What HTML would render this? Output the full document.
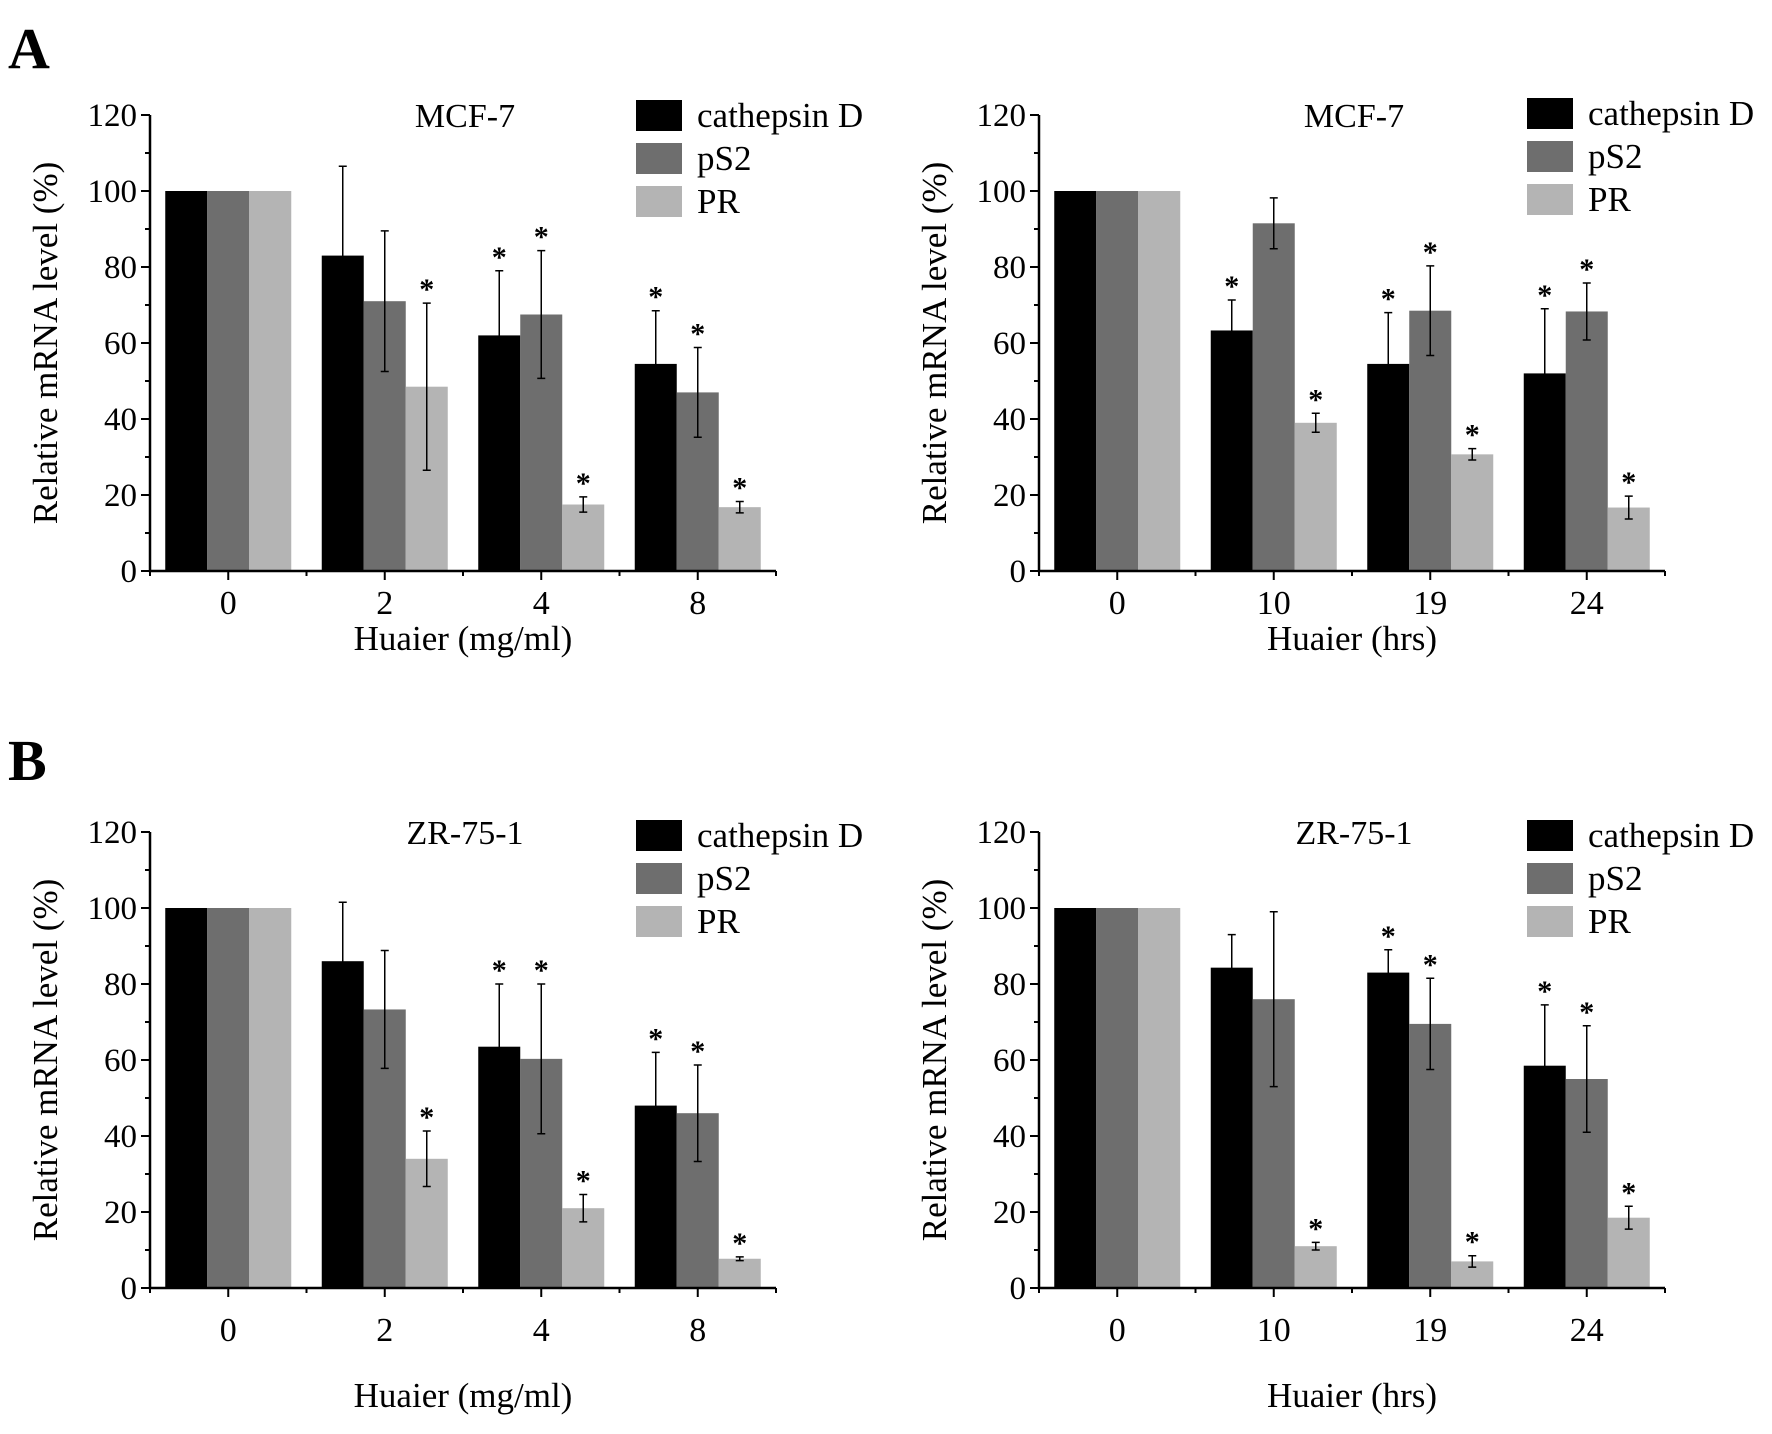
<!DOCTYPE html>
<html><head><meta charset="utf-8"><style>
html,body{margin:0;padding:0;background:#fff}
svg{display:block}
text{font-family:"Liberation Serif",serif;fill:#000}
</style></head><body>
<svg id="fig" width="1772" height="1434" viewBox="0 0 1772 1434" xmlns="http://www.w3.org/2000/svg">
<text x="8" y="68" font-size="58" font-weight="bold">A</text>
<text x="8" y="780" font-size="58" font-weight="bold">B</text>
</svg>
<script>
const seriesNames = ["cathepsin D","pS2","PR"];
const colors = ["#000000","#6e6e6e","#b4b4b4"];
const yTicks = [0,20,40,60,80,100,120];

const aLeftCats = ["0","2","4","8"];
const aLeftCath = [100,83,62,54.5];
const aLeftPS2 = [100,71,67.5,47];
const aLeftPR = [100,48.5,17.5,16.8];
const aLeftCathErr = [0,23.5,17,14];
const aLeftPS2Err = [0,18.5,16.8,11.8];
const aLeftPRErr = [0,22,2,1.5];
const aLeftCathStar = [0,0,1,1];
const aLeftPS2Star = [0,0,1,1];
const aLeftPRStar = [0,1,1,1];

const aRightCats = ["0","10","19","24"];
const aRightCath = [100,63.3,54.5,52];
const aRightPS2 = [100,91.5,68.5,68.3];
const aRightPR = [100,39,30.7,16.7];
const aRightCathErr = [0,8,13.5,17];
const aRightPS2Err = [0,6.7,11.8,7.5];
const aRightPRErr = [0,2.5,1.5,3];
const aRightCathStar = [0,1,1,1];
const aRightPS2Star = [0,0,1,1];
const aRightPRStar = [0,1,1,1];

const bLeftCats = ["0","2","4","8"];
const bLeftCath = [100,86,63.5,48];
const bLeftPS2 = [100,73.3,60.3,46];
const bLeftPR = [100,34,21,7.7];
const bLeftCathErr = [0,15.5,16.5,14];
const bLeftPS2Err = [0,15.5,19.7,12.7];
const bLeftPRErr = [0,7.3,3.6,0.5];
const bLeftCathStar = [0,0,1,1];
const bLeftPS2Star = [0,0,1,1];
const bLeftPRStar = [0,1,1,1];

const bRightCats = ["0","10","19","24"];
const bRightCath = [100,84.3,83,58.5];
const bRightPS2 = [100,76,69.5,55];
const bRightPR = [100,11,7,18.5];
const bRightCathErr = [0,8.7,6,16];
const bRightPS2Err = [0,23,12,14];
const bRightPRErr = [0,1,1.5,3];
const bRightCathStar = [0,0,1,1];
const bRightPS2Star = [0,0,1,1];
const bRightPRStar = [0,1,1,1];

const NS = "http://www.w3.org/2000/svg";
const svg = document.getElementById("fig");
function mk(tag, attrs, parent){
  const e = document.createElementNS(NS, tag);
  for (const k in attrs) e.setAttribute(k, attrs[k]);
  (parent||svg).appendChild(e);
  return e;
}

function panel(id, ax, y0, cats, vals, errs, stars, title, xTitle, legX, legY, tickLblY, xTitleY){
  const g = mk("g", {});
  
  
  const ppu = 456/120;
  const step = 156.5;
  const yS = v => y0 - v*ppu;
  const xS = i => ax + step/2 + i*step;
  const bw = 42;
  for (let s=0;s<3;s++){
    for (let i=0;i<cats.length;i++){
      const x = xS(i) - 1.5*bw + s*bw;
      const r = mk("rect", {x:x, y:yS(vals[s][i]), width:bw, height:vals[s][i]*ppu, fill:colors[s]}, g);
      
      
      const e = errs[s][i];
      if (e > 0){
        const cx = x + bw/2;
        const eb = mk("path", {d:`M${cx} ${yS(vals[s][i]-e)}V${yS(vals[s][i]+e)}M${cx-4} ${yS(vals[s][i]+e)}h8M${cx-4} ${yS(vals[s][i]-e)}h8`, stroke:"#000", "stroke-width":1.5, fill:"none"}, g);
        
        
      }
      if (stars[s][i]){
        const top = yS(vals[s][i] + e);
        const st = mk("text", {x:x+bw/2, y:top-4, "text-anchor":"middle", "font-size":30, "font-family":"Liberation Sans, sans-serif", "font-weight":"bold"}, g);
        st.textContent = "*";
        
        
      }
    }
  }
  const axLine = mk("path", {d:`M${ax} ${yS(120)}V${y0}H${ax+4*step}`, stroke:"#000", "stroke-width":2.5, fill:"none"}, g);
  
  
  for (let v=0; v<=120; v+=10){
    const major = v%20===0;
    mk("line", {x1:ax-(major?9:5), x2:ax, y1:yS(v), y2:yS(v), stroke:"#000", "stroke-width":2}, g);
  }
  yTicks.forEach(v=>{
    const t = mk("text", {x:ax-13, y:yS(v)+11, "text-anchor":"end", "font-size":33}, g);
    t.textContent = v;
    
    
  });
  for (let i=0;i<=4;i++){
    const x = ax + i*step;
    mk("line", {x1:x, x2:x, y1:y0, y2:y0+5, stroke:"#000", "stroke-width":2}, g);
  }
  cats.forEach((c,i)=>{
    mk("line", {x1:xS(i), x2:xS(i), y1:y0, y2:y0+9, stroke:"#000", "stroke-width":2}, g);
    const t = mk("text", {x:xS(i), y:tickLblY, "text-anchor":"middle", "font-size":34}, g);
    t.textContent = c;
    
    
  });
  const yt = mk("text", {transform:`translate(${ax-93},${yS(60)}) rotate(-90)`, "text-anchor":"middle", "font-size":35}, g);
  yt.textContent = "Relative mRNA level (%)";
  
  
  const xt = mk("text", {x:ax+2*step, y:xTitleY, "text-anchor":"middle", "font-size":35}, g);
  xt.textContent = xTitle;
  
  
  const tt = mk("text", {x:ax+315, y:yS(120)+12, "text-anchor":"middle", "font-size":34}, g);
  tt.textContent = title;
  
  
  for (let s=0;s<3;s++){
    const ly = legY + s*43;
    const lr = mk("rect", {x:legX, y:ly-15, width:46, height:31, fill:colors[s]}, g);
    
    
    const lt = mk("text", {x:legX+61, y:ly+12, "font-size":35}, g);
    lt.textContent = seriesNames[s];
    
    
  }
}

panel("a-left", 150, 571, aLeftCats, [aLeftCath,aLeftPS2,aLeftPR], [aLeftCathErr,aLeftPS2Err,aLeftPRErr], [aLeftCathStar,aLeftPS2Star,aLeftPRStar], "MCF-7", "Huaier (mg/ml)", 636, 115, 614, 650);
panel("a-right", 1039, 571, aRightCats, [aRightCath,aRightPS2,aRightPR], [aRightCathErr,aRightPS2Err,aRightPRErr], [aRightCathStar,aRightPS2Star,aRightPRStar], "MCF-7", "Huaier (hrs)", 1527, 113, 614, 650);
panel("b-left", 150, 1288, bLeftCats, [bLeftCath,bLeftPS2,bLeftPR], [bLeftCathErr,bLeftPS2Err,bLeftPRErr], [bLeftCathStar,bLeftPS2Star,bLeftPRStar], "ZR-75-1", "Huaier (mg/ml)", 636, 835, 1341, 1407);
panel("b-right", 1039, 1288, bRightCats, [bRightCath,bRightPS2,bRightPR], [bRightCathErr,bRightPS2Err,bRightPRErr], [bRightCathStar,bRightPS2Star,bRightPRStar], "ZR-75-1", "Huaier (hrs)", 1527, 835, 1341, 1407);
</script>
</body></html>
